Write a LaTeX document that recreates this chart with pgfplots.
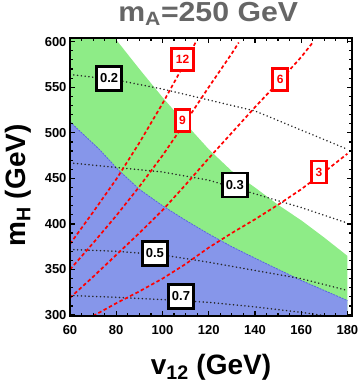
\documentclass[border=0pt]{standalone}
\usepackage{pgfplots}
\pgfplotsset{compat=1.18}
\usepackage{fontspec}
\setmainfont{Liberation Sans}
\definecolor{gfill}{RGB}{142,236,135}
\definecolor{bfill}{RGB}{134,150,234}
\definecolor{bedge}{RGB}{90,100,225}
\definecolor{tgray}{RGB}{102,102,102}
\tikzset{
  blab/.style={draw=black, line width=2.8pt, fill=white, minimum width=25pt, minimum height=24pt, inner sep=2pt, font=\bfseries\fontsize{13}{13}\selectfont},
  rlab/.style={draw=red, line width=2.8pt, fill=white, minimum height=22pt, inner xsep=4pt, inner ysep=2pt, text=red, font=\bfseries\fontsize{12}{12}\selectfont},
  rdash/.style={red, line width=1.7pt, dash pattern=on 3.5pt off 2.5pt},
  bdot/.style={black!85, line width=1.7pt, line cap=round, dash pattern=on 0.01pt off 3.8pt},
}
\begin{document}
\begin{tikzpicture}
\useasboundingbox (-70pt,-67pt) rectangle (290pt,316pt);
\begin{axis}[
  scale only axis, width=282pt, height=278pt,
  xmin=60, xmax=182, ymin=299, ymax=604,
  xtick={60,80,...,180}, ytick={300,350,...,600},
  minor x tick num=3, minor y tick num=4,
  tick align=inside, major tick length=5pt, minor tick length=3pt,
  every tick/.style={black, line width=1.2pt},
  axis line style={line width=2.5pt},
  tick label style={font=\bfseries\fontsize{13}{13}\selectfont},
  xticklabel style={yshift=-6pt},
  /pgf/number format/assume math mode=true,
  axis on top,
  title={\scalebox{1.1}[1]{m\textsubscript{A}=250 GeV}},
  title style={at={(axis description cs:0.49,1.039)}, anchor=base, yshift=0pt, text=tgray, font=\bfseries\fontsize{27.5}{27.5}\selectfont},
  xlabel={v\textsubscript{12} (GeV)},
  xlabel style={at={(axis description cs:0.5,-0.185)}, anchor=center, font=\bfseries\fontsize{28}{28}\selectfont},
  ylabel={m\textsubscript{H} (GeV)},
  ylabel style={at={(axis description cs:-0.184,0.47)}, anchor=center, font=\bfseries\fontsize{28}{28}\selectfont},
]
% green region
\addplot[fill=gfill, draw=none] coordinates {
(60,299) (60,604) (80,604) (80,602) (85,586) (90,570) (100,539) (110,510) (120,482) (130,458) (140,440) (150,421) (160,404) (170,385) (180,365) (180,299)
} --cycle;
% blue region
\addplot[fill=bfill, draw=none] coordinates {
(60,299) (60,512) (73,481) (81,459) (90,438) (100,420) (110,404) (120,389) (130,375) (142,360) (160,338) (180,316) (180,299)
} --cycle;
\addplot[bedge, line width=0.8pt, dash pattern=on 2pt off 1pt] coordinates {
(60,512) (73,481) (81,459) (90,438) (100,420) (110,404) (120,389) (130,375) (142,360) (160,338) (180,316)
};
% dotted contours
\addplot[bdot] coordinates {(60,564) (80,558) (100,548) (120,536) (140,524) (160,503) (180,482)};
\addplot[bdot] coordinates {(60,467) (80,462) (100,457) (120,448) (140,433) (160,418) (180,401)};
\addplot[bdot] coordinates {(60,372) (80,370) (100,366) (120,358) (140,349) (160,340) (180,327)};
\addplot[bdot] coordinates {(60,321.5) (80,319.5) (100,317) (120,314) (140,309) (160,303) (170,299.5)};
% red dashed contours
\addplot[rdash] coordinates {(60,378) (70,413) (80,449) (90,489) (100,532) (110,578) (114.5,600)};
\addplot[rdash] coordinates {(60,350) (70,379) (80,409) (90,441) (100,475) (110,512) (120,550) (130,587) (133,599)};
\addplot[rdash] coordinates {(60,319) (70,342) (80,366) (90,390) (100,415) (110,443) (120,472) (130,500) (140,528) (150,555) (160,583) (165,599)};
\addplot[rdash] coordinates {(70,299) (80,313) (90,326) (100,340) (110,356) (120,374) (130,390) (140,405) (150,421) (160,438) (170,457) (180,477)};
% labels
\node[rlab] at (axis cs:108.7,580.4) {12};
\node[rlab] at (axis cs:108.7,513.5) {9};
\node[rlab] at (axis cs:150.9,558.5) {6};
\node[rlab] at (axis cs:167.7,457) {3};
\node[blab] at (axis cs:76.9,559.6) {0.2};
\node[blab] at (axis cs:131.3,442.7) {0.3};
\node[blab] at (axis cs:96.7,367.8) {0.5};
\node[blab] at (axis cs:108,320.4) {0.7};
\end{axis}
\end{tikzpicture}
\end{document}
